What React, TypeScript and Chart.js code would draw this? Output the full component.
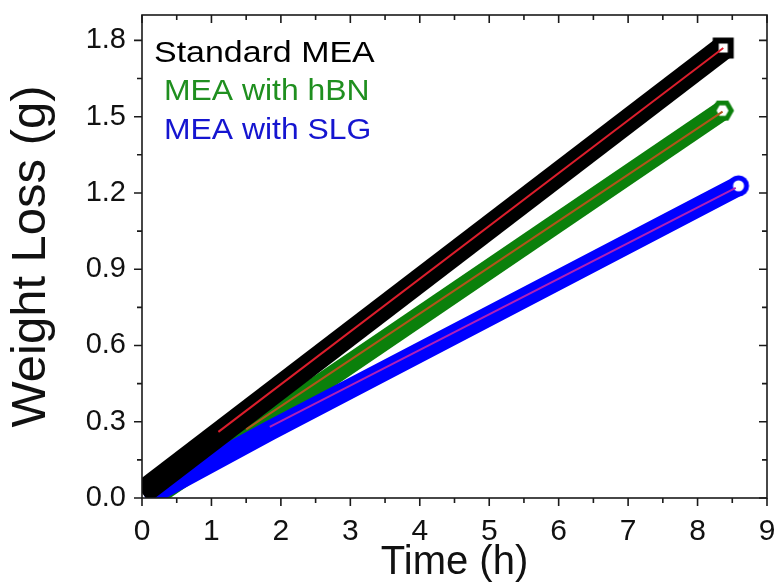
import { useEffect, useRef } from 'react';
import { Chart, registerables } from 'chart.js';

Chart.register(...registerables);

// ---- data ----
const seriesNames = ['Standard MEA', 'MEA with hBN', 'MEA with SLG'];
const stdTime = [0, 8.37];
const stdLoss = [0.02, 1.77];
const hbnTime = [0.15, 8.36];
const hbnLoss = [0, 1.524];
const slgTime = [0.05, 1.84, 8.59];
const slgLoss = [0, 0.265, 1.228];

const stdFitTime = [1.1, 8.37];
const stdFitLoss = [0.26, 1.77];
const hbnFitTime = [1.5, 8.36];
const hbnFitLoss = [0.27, 1.52];
const slgFitTime = [1.84, 8.55];
const slgFitLoss = [0.28, 1.22];

const xTicks = [0, 1, 2, 3, 4, 5, 6, 7, 8, 9];
const xMinor = [0.5, 1.5, 2.5, 3.5, 4.5, 5.5, 6.5, 7.5, 8.5];
const yTicks = [0, 0.3, 0.6, 0.9, 1.2, 1.5, 1.8];
const yMinor = [0.15, 0.45, 0.75, 1.05, 1.35, 1.65];

const xTitle = 'Time (h)';
const yTitle = 'Weight Loss (g)';

const FONT = "'Liberation Sans', Arial, Helvetica, sans-serif";
const seriesColors = ['#000000', '#0b800b', '#0000ff'];
const legendColors = ['#000000', '#1f8f1f', '#1515d0'];
const fitColors = ['#dc1e2c', '#b0561a', '#b020b8'];

function pts(xs: number[], ys: number[]) {
  return xs.map((t, i) => ({ x: t, y: ys[i] }));
}

function makeMarker(kind: string, color: string): HTMLCanvasElement {
  const c = document.createElement('canvas');
  c.width = 26;
  c.height = 26;
  const g = c.getContext('2d')!;
  const cx = 13, cy = 13;
  const shape = (r: number) => {
    g.beginPath();
    if (kind === 'square') {
      g.rect(cx - r, cy - r, 2 * r, 2 * r);
    } else if (kind === 'hex') {
      for (let k = 0; k < 6; k++) {
        const a = (Math.PI / 3) * k;
        const px = cx + r * Math.cos(a), py = cy + r * Math.sin(a);
        if (k === 0) g.moveTo(px, py); else g.lineTo(px, py);
      }
      g.closePath();
    } else {
      g.arc(cx, cy, r, 0, Math.PI * 2);
    }
  };
  g.fillStyle = color;
  shape(kind === 'square' ? 10.5 : kind === 'hex' ? 11.5 : 10.5);
  g.fill();
  g.fillStyle = '#ffffff';
  shape(kind === 'square' ? 4.5 : kind === 'hex' ? 6 : 5.5);
  g.fill();
  return c;
}

const framePlugin = {
  id: 'frameTicks',
  afterDatasetsDraw(chart: any) {
    const { ctx, chartArea: a, scales } = chart;
    const x = scales.x, y = scales.y;
    ctx.save();
    ctx.strokeStyle = '#1a1a1a';
    ctx.lineWidth = 1.6;
    ctx.strokeRect(a.left, a.top, a.right - a.left, a.bottom - a.top);
    ctx.beginPath();
    const major = 8, minor = 5;
    for (const v of xTicks) {
      const px = x.getPixelForValue(v);
      ctx.moveTo(px, a.bottom); ctx.lineTo(px, a.bottom + major);
      ctx.moveTo(px, a.top); ctx.lineTo(px, a.top + major);
    }
    for (const v of xMinor) {
      const px = x.getPixelForValue(v);
      ctx.moveTo(px, a.bottom); ctx.lineTo(px, a.bottom + minor);
      ctx.moveTo(px, a.top); ctx.lineTo(px, a.top + minor);
    }
    for (const v of yTicks) {
      const py = y.getPixelForValue(v);
      ctx.moveTo(a.left, py); ctx.lineTo(a.left - major, py);
      ctx.moveTo(a.right, py); ctx.lineTo(a.right - major, py);
    }
    for (const v of yMinor) {
      const py = y.getPixelForValue(v);
      ctx.moveTo(a.left, py); ctx.lineTo(a.left - minor, py);
      ctx.moveTo(a.right, py); ctx.lineTo(a.right - minor, py);
    }
    ctx.stroke();
    ctx.restore();
  },
};

const legendPlugin = {
  id: 'textLegend',
  afterDraw(chart: any) {
    const { ctx } = chart;
    const xs = [154, 164, 164];
    const ys = [62, 100, 139];
    ctx.save();
    ctx.font = `29px ${FONT}`;
    ctx.textAlign = 'left';
    ctx.textBaseline = 'alphabetic';
    seriesNames.forEach((name, i) => {
      ctx.save();
      ctx.translate(xs[i], ys[i]);
      ctx.scale(i === 0 ? 1.17 : 1.1, 1);
      ctx.fillStyle = legendColors[i];
      ctx.fillText(name, 0, 0);
      ctx.restore();
    });
    ctx.restore();
  },
};

const zeroPad = (s: any) => {
  s.paddingTop = 0;
  s.paddingBottom = 0;
  s.paddingLeft = 0;
  s.paddingRight = 0;
};

export default function App() {
  const ref = useRef<HTMLCanvasElement | null>(null);
  useEffect(() => {
    const canvas = ref.current;
    if (!canvas) return;
    const sq = makeMarker('square', seriesColors[0]);
    const hex = makeMarker('hex', seriesColors[1]);
    const circ = makeMarker('circle', seriesColors[2]);
    const endRadius = (n: number) => (c: any) => (c.dataIndex === n - 1 ? 11 : 0);

    const band = (i: number, xs: number[], ys: number[], marker: HTMLCanvasElement, width: number, order: number) => ({
      label: seriesNames[i],
      data: pts(xs, ys),
      showLine: true,
      borderColor: seriesColors[i],
      backgroundColor: seriesColors[i],
      borderWidth: width,
      borderCapStyle: 'butt',
      borderJoinStyle: 'round',
      pointStyle: marker,
      pointRadius: endRadius(xs.length),
      pointHoverRadius: endRadius(xs.length),
      clip: 0,
      order,
    });
    const fit = (i: number, xs: number[], ys: number[], order: number) => ({
      label: seriesNames[i] + ' fit',
      data: pts(xs, ys),
      showLine: true,
      borderColor: fitColors[i],
      borderWidth: 2,
      pointRadius: 0,
      pointHoverRadius: 0,
      clip: 0,
      order,
    });

    const chart = new Chart(canvas, {
      type: 'scatter',
      data: {
        datasets: [
          fit(0, stdFitTime, stdFitLoss, 1),
          fit(1, hbnFitTime, hbnFitLoss, 2),
          fit(2, slgFitTime, slgFitLoss, 3),
          band(0, stdTime, stdLoss, sq, 24, 4),
          band(2, slgTime, slgLoss, circ, 20, 5),
          band(1, hbnTime, hbnLoss, hex, 20, 6),
        ] as any,
      },
      options: {
        responsive: false,
        animation: false,
        events: [],
        layout: { autoPadding: false, padding: { top: 15, right: 11, left: 0, bottom: 0 } },
        plugins: { legend: { display: false }, tooltip: { enabled: false } },
        scales: {
          x: {
            type: 'linear',
            min: 0,
            max: 9,
            afterFit: (s: any) => { s.height = 87; zeroPad(s); },
            afterBuildTicks: (s: any) => { s.ticks = xTicks.map((v) => ({ value: v })); },
            grid: { display: false, drawTicks: false },
            border: { display: false },
            ticks: {
              color: '#111',
              font: { family: FONT, size: 30 },
              padding: 16,
              maxRotation: 0,
              callback: (v: any) => String(v),
            },
            title: {
              display: true,
              text: xTitle,
              color: '#111',
              font: { family: FONT, size: 40, lineHeight: 1.1 },
              padding: { top: 0, bottom: 0 },
            },
          },
          y: {
            type: 'linear',
            min: 0,
            max: 1.9,
            afterFit: (s: any) => { s.width = 142; zeroPad(s); },
            afterBuildTicks: (s: any) => { s.ticks = yTicks.map((v) => ({ value: v })); },
            grid: { display: false, drawTicks: false },
            border: { display: false },
            ticks: {
              color: '#111',
              font: { family: FONT, size: 29 },
              padding: 16,
              callback: (v: any) => Number(v).toFixed(1),
            },
            title: {
              display: true,
              text: yTitle,
              color: '#111',
              font: { family: FONT, size: 49, lineHeight: 1.2 },
              padding: { top: 2, bottom: 0 },
            },
          },
        },
      },
      plugins: [framePlugin, legendPlugin],
    } as any);
    return () => chart.destroy();
  }, []);

  return (
    <div style={{ position: 'absolute', left: 0, top: 0, width: 778, height: 585, background: '#fff' }}>
      <canvas ref={ref} width={778} height={585} style={{ display: 'block' }} />
    </div>
  );
}
